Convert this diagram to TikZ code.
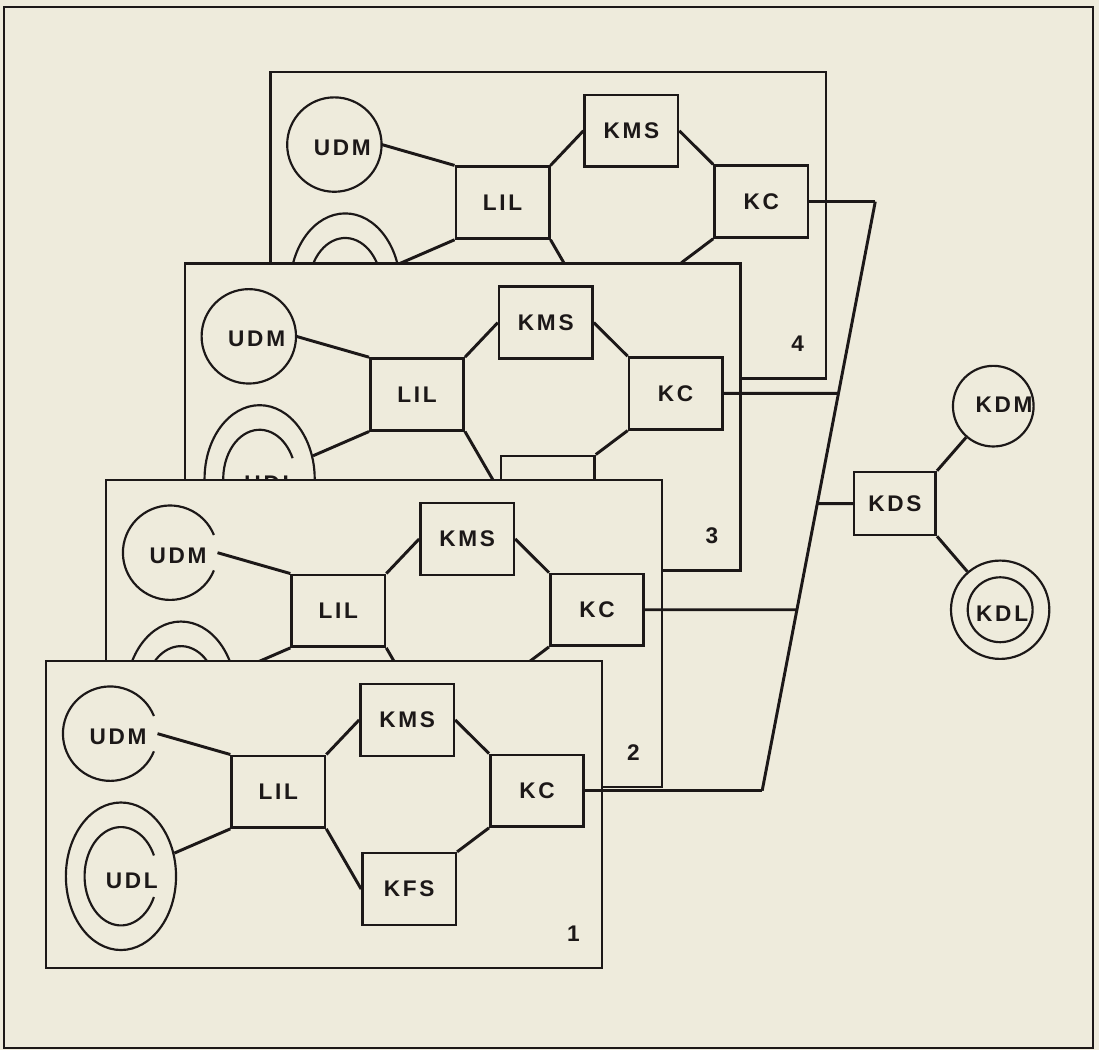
\documentclass[tikz,border=0pt]{standalone}
\usepackage{fontspec}
\setsansfont{Liberation Sans}[LetterSpace=12]
\usepackage{xcolor}
\usepackage{tikz}
\usetikzlibrary{positioning,calc,shapes.geometric,intersections}
\definecolor{paper}{RGB}{238,235,220}
\definecolor{ink}{RGB}{28,24,24}

\begin{document}
\begin{tikzpicture}[
  x=1pt, y=-1pt,
  every node/.style={font=\sffamily\bfseries\fontsize{23}{26}\selectfont, text=ink},
  panel/.style={draw=ink, fill=paper, line width=2.4pt},
  box/.style={draw=ink, fill=paper, line width=2.6pt, minimum width=95pt, minimum height=73pt, inner sep=0pt},
  ring/.style={circle, minimum size=96pt, inner sep=0pt},
  oval/.style={ellipse, draw=ink, line width=2.2pt, minimum width=112pt, minimum height=150pt, inner sep=0pt},
  lbl/.style={inner sep=0pt},
  link/.style={draw=ink, line width=3pt},
  curve/.style={draw=ink, line width=2.2pt}
]
\fill[paper] (0,0) rectangle (1117,1068);
\draw[ink, line width=1.8pt] (4,7) rectangle (1111,1066);

% stacked sites, back to front
\foreach \n/\px/\py in {4/275/73, 3/188/268, 2/108/488, 1/47/672} {
  \begin{scope}[shift={(\px,\py)}]
    \draw[panel] (0,0) rectangle (565,312);
    \node[ring] (udm\n) at (65,74) {};
    \node[lbl] (udmtxt\n) at (73,77) {UDM};
    \node[oval] (udl\n) at (76,219) {};
    \node[lbl] (udltxt\n) at (87,224) {UDL};
    \node[box] (lil\n) at (236,133) {LIL};
    \node[box] (kms\n) at (367,60) {KMS};
    \node[box] (kc\n) at (499,132) {KC};
    \node[box] (kfs\n) at (369,232) {KFS};
    \node[lbl] (num\n) at (536,277) {\n};
    \ifnum\n<3
      \draw[curve] ($(udm\n)+(22:48)$) arc[start angle=22, end angle=338, radius=48];
    \else
      \draw[curve] (udm\n) circle[radius=48];
    \fi
    \draw[curve] ($(udl\n)+(25:37 and 50)$) arc[start angle=25, end angle=335, x radius=37, y radius=50];
    \draw[link] (udm\n.east) -- (lil\n.north west);
    \draw[link] (udl\n) -- (lil\n.south west);
    \draw[link] (lil\n.north east) -- (kms\n.west);
    \draw[link] (kms\n.east) -- (kc\n.north west);
    \draw[link] (lil\n.south east) -- (kfs\n.west);
    \draw[link] (kfs\n.north east) -- (kc\n.south west);
  \end{scope}
}

% directory site
\node[box, minimum width=83pt, minimum height=64pt] (kds) at (910,512) {KDS};
\node[ring, draw=ink, line width=2.2pt, minimum size=82pt] (kdm) at (1010,413) {};
\node[lbl] (kdmtxt) at (1021,412) {KDM};
\node[ring, draw=ink, line width=2.2pt, minimum size=100pt] (kdl) at (1017,620) {};
\node[lbl] (kdltxt) at (1019,624) {KDL};
\draw[curve] (kdl) circle[radius=33];
\draw[link] (kds.north east) -- (kdm);
\draw[link] (kds.south east) -- (kdl);

% network bus
\coordinate (busx) at (890,0);
\coordinate (busy) at (775,0);
\coordinate (bustop) at (kc4.east -| busx);
\coordinate (busbot) at (kc1.east -| busy);
\draw[link, name path=bus] (bustop) -- (busbot);
\draw[link] (kc4.east) -- (bustop);
\draw[link] (kc1.east) -- (busbot);
\path[name path=tap2] (kc2.east) -- ++(400,0);
\path[name path=tap3] (kc3.east) -- ++(400,0);
\path[name path=tapk] (kds.west) -- ++(-200,0);
\draw[link, name intersections={of=bus and tap2, by=join2}] (kc2.east) -- (join2);
\draw[link, name intersections={of=bus and tap3, by=join3}] (kc3.east) -- (join3);
\draw[link, name intersections={of=bus and tapk, by=joink}] (kds.west) -- (joink);
\end{tikzpicture}
\end{document}
